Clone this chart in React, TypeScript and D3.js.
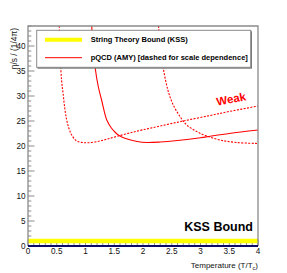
import React from "react";
import * as d3 from "d3";

// ---- data (T/Tc, eta/s in units of 1/(4pi)) ----
const kssBound = 1;
const solidAMY: [number, number][] = [
  [1.108, 44], [1.13, 40], [1.165, 35.9], [1.22, 32], [1.28, 29.2], [1.37, 25.2],
  [1.45, 23.6], [1.52, 22.7], [1.57, 22.2], [1.65, 21.7], [1.77, 21.25], [1.9, 20.9],
  [2.06, 20.7], [2.3, 20.8], [2.6, 21.1], [3.0, 21.65], [3.17, 21.95], [3.5, 22.5], [4.0, 23.2],
];
const dashedLow: [number, number][] = [
  [0.544, 44], [0.56, 38], [0.585, 33], [0.61, 30.5], [0.64, 27.5], [0.673, 25.2],
  [0.71, 23.6], [0.76, 22.2], [0.846, 21.0], [0.95, 20.7], [1.05, 20.65], [1.25, 21.0],
  [1.4, 21.45], [1.57, 22.0], [1.8, 22.7], [2.0, 23.25], [2.3, 24.0], [2.7, 25.0],
  [3.165, 26.1], [3.5, 26.9], [4.0, 28.0],
];
const dashedHigh: [number, number][] = [
  [2.27, 44], [2.3, 40.3], [2.353, 35.5], [2.44, 30.9], [2.527, 28.2], [2.643, 25.9],
  [2.76, 24.2], [2.934, 22.9], [3.108, 22.0], [3.34, 21.2], [3.63, 20.7], [4.0, 20.5],
];
const xTicks = [0, 0.5, 1, 1.5, 2, 2.5, 3, 3.5, 4];
const yTicks = [0, 5, 10, 15, 20, 25, 30, 35, 40];
const legendLabels = ["String Theory Bound (KSS)", "pQCD (AMY) [dashed for scale dependence]"];

const W = 287, H = 273;
const L = 28, R = 258, T = 26, B = 246;

export default function App() {
  const x = d3.scaleLinear().domain([0, 4]).range([L, R]);
  const y = d3.scaleLinear().domain([0, 44]).range([B, T]);
  const line = d3.line<[number, number]>()
    .x(d => x(d[0])).y(d => y(d[1]))
    .curve(d3.curveCatmullRom.alpha(0.5));
  const xMinor = d3.range(0, 40.5, 1).map(i => i / 10);
  const yMinor = d3.range(0, 45, 1);
  const font = "Liberation Sans, Arial, Helvetica, sans-serif";
  const gray = "#8a8a8a";
  return (
    <svg width={W} height={H} style={{ position: "absolute", left: 0, top: 0, background: "#fff" }} fontFamily={font}>
      <defs>
        <clipPath id="plot"><rect x={L} y={T} width={R - L} height={B - T} /></clipPath>
      </defs>
      <rect x={0} y={0} width={W} height={H} fill="#fff" />
      {/* curves */}
      <g clipPath="url(#plot)" fill="none" stroke="#ff0000">
        <path d={line(solidAMY) || ""} strokeWidth={1.1} />
        <path d={line(dashedLow) || ""} strokeWidth={1.1} strokeDasharray="2,1.4" />
        <path d={line(dashedHigh) || ""} strokeWidth={1.1} strokeDasharray="2,1.4" />
      </g>
      {/* y ticks */}
      <g stroke={gray} strokeWidth={1}>
        {yMinor.map(v => (
          <line key={"ym" + v} x1={L} x2={L + (v % 5 === 0 ? 6.5 : 3.3)} y1={y(v)} y2={y(v)} />
        ))}
      </g>
      {/* x ticks */}
      <g stroke={gray} strokeWidth={1}>
        {xMinor.map((v, i) => (
          <line key={"xm" + i} x1={x(v)} x2={x(v)} y1={B} y2={B - (i % 5 === 0 ? 6.5 : 3.3)} />
        ))}
      </g>
      {/* KSS band */}
      <line x1={L} x2={R} y1={y(kssBound)} y2={y(kssBound)} stroke="#ffff00" strokeWidth={4.5} />
      {/* frame */}
      <path d={`M${L},${B}V${T}H${R}V${B}`} fill="none" stroke={gray} strokeWidth={1.3} />
      <line x1={L} x2={R} y1={B} y2={B} stroke="#0b0b66" strokeWidth={1.8} />
      {/* tick labels */}
      <g fontSize={8.2} fill="#111">
        {yTicks.map(v => (
          <text key={"yl" + v} x={L - 2.5} y={y(v)} dy="0.35em" textAnchor="end">{v}</text>
        ))}
        {xTicks.map(v => (
          <text key={"xl" + v} x={x(v)} y={254} textAnchor="middle">{v}</text>
        ))}
      </g>
      {/* axis titles */}
      <text x={R} y={268} textAnchor="end" fontSize={8} fill="#111">
        Temperature (T/T<tspan fontSize={5.5} dy={2}>c</tspan><tspan dy={-2}>)</tspan>
      </text>
      <text transform={`translate(17,${T + 2}) rotate(-90)`} textAnchor="end" fontSize={8.4} fill="#111">
        η/s / (1/4π)
      </text>
      {/* annotations */}
      <text x={R - 5} y={231} textAnchor="end" fontSize={12.5} fontWeight="bold" fill="#000">KSS Bound</text>
      <text transform="translate(232,103) rotate(-11)" textAnchor="middle" fontSize={11.5} fontWeight="bold" fill="#ff0000">Weak</text>
      {/* legend */}
      <rect x={37.5} y={31.3} width={214.5} height={37.4} fill="#777" />
      <rect x={36.7} y={30.3} width={214} height={37} fill="#fff" stroke={gray} strokeWidth={1} />
      <line x1={45} x2={82} y1={39.7} y2={39.7} stroke="#ffff00" strokeWidth={4} />
      <line x1={45} x2={82} y1={57.7} y2={57.7} stroke="#ff0000" strokeWidth={1} />
      <text x={90.7} y={39.7} dy="0.35em" fontSize={7.5} fontWeight="bold" fill="#000">{legendLabels[0]}</text>
      <text x={90.7} y={57.7} dy="0.35em" fontSize={7.5} fontWeight="bold" fill="#000">{legendLabels[1]}</text>
    </svg>
  );
}
